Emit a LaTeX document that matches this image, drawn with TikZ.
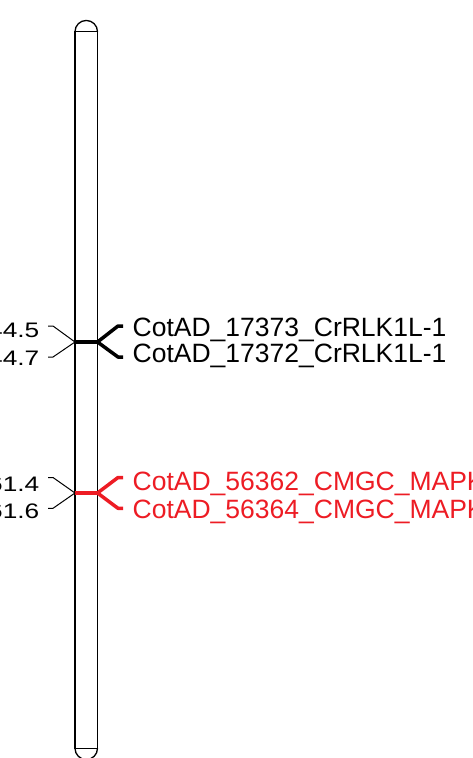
\documentclass[tikz,border=0pt]{standalone}
\usepackage{fontspec}
\setmainfont{Liberation Sans}
\definecolor{mred}{RGB}{237,28,36}
\begin{document}
\begin{tikzpicture}[x=1pt,y=-1pt,
  chrom/.style={draw=black,line width=1.3pt},
  genelbl/.style={inner sep=0pt,anchor=base west,font=\fontsize{26.5}{30}\selectfont},
  poslbl/.style={inner sep=0pt,anchor=base east,xscale=1.25,font=\fontsize{21}{24}\selectfont},
  thinlink/.style={draw=black,line width=1pt},
  markerline/.style={line width=4.5pt},
  forkline/.style={line width=3.5pt,line join=round}]
\useasboundingbox (0,0) rectangle (472,758);
% chromosome
\draw[chrom] (75,31.7) rectangle (97.5,748.3);
\draw[chrom] (97.5,31.7) arc[start angle=0,end angle=180,radius=11.25pt];
\draw[chrom] (75,748.3) arc[start angle=180,end angle=360,radius=11.25pt];
% group 1 (black)
\coordinate (m1L) at (75,342);
\coordinate (m1R) at (97.5,342);
\draw[markerline,black] (m1L) -- (m1R);
\draw[forkline,black] (m1R) -- (118,326) -- (123,326);
\draw[forkline,black] (m1R) -- (118,357) -- (123,357);
\node[genelbl,text=black] (g1) at (132.5,336.5) {CotAD\_17373\_CrRLK1L-1};
\node[genelbl,text=black] (g2) at (132.5,362.7) {CotAD\_17372\_CrRLK1L-1};
\draw[thinlink] (m1L) -- (53,326) -- (48,326);
\draw[thinlink] (m1L) -- (53,357) -- (48,357);
\node[poslbl] (p1) at (39.5,337.3) {44.5};
\node[poslbl] (p2) at (39.5,365) {44.7};
% group 2 (red)
\coordinate (m2L) at (75,493);
\coordinate (m2R) at (97.5,493);
\draw[markerline,mred] (m2L) -- (m2R);
\draw[forkline,mred] (m2R) -- (118,477.5) -- (123,477.5);
\draw[forkline,mred] (m2R) -- (118,508.3) -- (123,508.3);
\node[genelbl,text=mred] (g3) at (132.5,490) {CotAD\_56362\_CMGC\_MAPK};
\node[genelbl,text=mred] (g4) at (132.5,518.3) {CotAD\_56364\_CMGC\_MAPK};
\draw[thinlink] (m2L) -- (53,477.5) -- (48,477.5);
\draw[thinlink] (m2L) -- (53,508.3) -- (48,508.3);
\node[poslbl] (p3) at (39.5,491) {61.4};
\node[poslbl] (p4) at (39.5,518) {61.6};
\end{tikzpicture}
\end{document}
